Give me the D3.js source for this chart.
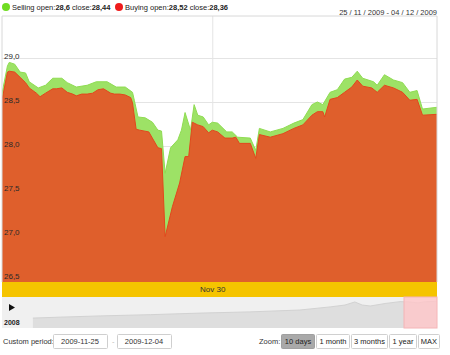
<!DOCTYPE html>
<html>
<head>
<meta charset="utf-8">
<script src="https://cdn.jsdelivr.net/npm/d3@7"></script>
<style>
  body { margin: 0; background: #fff; }
  svg { display: block; font-family: "Liberation Sans", Arial, sans-serif; }
</style>
</head>
<body>
<div id="chart"></div>
<script>
/* stock chart: selling / buying rate, 10 days, with navigator */

// hours after the start of the period (25 Nov 2009, 04:00)
const sellHours = [0,3,4,7,10,13,15,20,24,28,33,36,41,47,52,58,63,68,72,73,75,79,83,86,88,90,93,97,99,101,104,106,108,111,114,116,119,124,127,130,137,140,142,148,155,161,166,171,174,177,181,185,189,193,196,199,205,207,211,216,221,225,229,232,240];
const sellValues = [28.60,28.91,28.95,28.93,28.84,28.83,28.73,28.66,28.69,28.77,28.77,28.72,28.67,28.69,28.73,28.73,28.67,28.67,28.61,28.52,28.33,28.32,28.27,28.18,28.17,27.69,27.98,28.07,28.18,28.38,28.18,28.47,28.35,28.33,28.24,28.27,28.26,28.16,28.16,28.10,28.09,27.95,28.20,28.16,28.20,28.26,28.30,28.47,28.50,28.47,28.61,28.64,28.76,28.78,28.85,28.77,28.73,28.69,28.81,28.75,28.72,28.61,28.63,28.42,28.44];

const buyHours = [0,3,4,7,10,13,15,19,21,24,28,30,33,36,39,41,44,47,50,53,56,60,62,65,68,71,72,74,76,81,86,88,90,94,98,101,103,105,108,111,114,116,119,123,127,129,131,137,140,142,148,155,161,166,171,174,177,178,181,185,189,193,196,199,204,207,211,216,221,225,229,232,240];
const buyValues = [28.52,28.84,28.85,28.84,28.78,28.72,28.66,28.60,28.56,28.60,28.65,28.65,28.66,28.61,28.59,28.57,28.59,28.59,28.60,28.64,28.65,28.60,28.59,28.59,28.58,28.55,28.49,28.19,28.18,28.16,27.98,27.97,26.97,27.31,27.58,27.88,27.88,28.27,28.24,28.22,28.15,28.18,28.16,28.09,28.09,28.10,28.03,28.03,27.86,28.13,28.10,28.14,28.20,28.24,28.35,28.39,28.39,28.33,28.53,28.55,28.61,28.67,28.75,28.68,28.66,28.61,28.69,28.66,28.61,28.52,28.53,28.35,28.36];

// long history shown in the navigator
const navDates = ["2008-02-20","2008-04-04","2008-06-08","2008-08-28","2008-11-16","2009-02-05","2009-04-27","2009-06-15","2009-07-09","2009-07-25","2009-08-06","2009-08-19","2009-09-12","2009-10-06","2009-10-22","2009-11-04","2009-11-16","2009-12-04"];
const navValues = [23.2,23.5,23.9,24.3,24.8,25.2,25.8,26.8,27.4,28.4,27.4,27.1,27.9,28.5,28.4,28.1,28.5,28.6];

const yTicks = [26.5,27.0,27.5,28.0,28.5,29.0];
const zoomButtons = ["10 days","1 month","3 months","1 year","MAX"];
const periodFrom = "2009-11-25", periodTo = "2009-12-04";
const rangeText = "25 / 11 / 2009 - 04 / 12 / 2009";

const width = 450, height = 355;
const plot = { left: 2, right: 437, top: 16, bottom: 282 };

const start = new Date(2009, 10, 25, 4);
const hourToDate = h => new Date(start.getTime() + h * 3600e3);

const svg = d3.select("#chart")
    .append("svg")
    .attr("width", width)
    .attr("height", height);

/* SCALES */
let x = d3.scaleTime()
    .domain([start, hourToDate(240)])
    .range([plot.left, plot.right]);

let y = d3.scaleLinear()
    .domain([26.5, 29.0])
    .range([278, 58]);

const comma = d3.formatLocale({ decimal: ",", thousands: " ", grouping: [3], currency: ["", ""] });
const fmt = comma.format(".1f");

/* LEGEND */
const legend = [
    { color: "#6fdc22", name: "Selling", open: "28,6", close: "28,44", x: 6 },
    { color: "#ee1c1c", name: "Buying", open: "28,52", close: "28,36", x: 119 }
];
legend.forEach(l => {
    svg.append("circle").attr("cx", l.x).attr("cy", 7).attr("r", 4).attr("fill", l.color);
    let t = svg.append("text").attr("x", l.x + 6).attr("y", 10).attr("font-size", 7.5).attr("fill", "#222");
    t.append("tspan").text(l.name + " open:");
    t.append("tspan").attr("font-weight", "bold").text(l.open);
    t.append("tspan").text(" close:");
    t.append("tspan").attr("font-weight", "bold").text(l.close);
});

svg.append("text")
    .attr("x", plot.right).attr("y", 15)
    .attr("text-anchor", "end")
    .attr("font-size", 7.5).attr("fill", "#333")
    .text(rangeText);

/* GRID */
svg.append("g")
    .attr("transform", `translate(${plot.left},0)`)
    .call(d3.axisRight(y).tickValues(yTicks).tickSize(plot.right - plot.left).tickFormat(""))
    .call(g => g.select(".domain").remove())
    .call(g => g.selectAll("line").attr("stroke", "#e4e4e4"));

svg.append("g")
    .attr("transform", `translate(0,${plot.top})`)
    .call(d3.axisBottom(x).ticks(d3.timeMonday).tickSize(plot.bottom - plot.top).tickFormat(""))
    .call(g => g.select(".domain").remove())
    .call(g => g.selectAll("line").attr("stroke", "#e4e4e4"));

/* AREAS */
svg.append("clipPath").attr("id", "clip")
    .append("rect")
    .attr("x", plot.left).attr("y", plot.top)
    .attr("width", plot.right - plot.left).attr("height", plot.bottom - plot.top);

const area = d3.area()
    .x(d => x(hourToDate(d[0])))
    .y0(plot.bottom)
    .y1(d => y(d[1]));
const line = d3.line()
    .x(d => x(hourToDate(d[0])))
    .y(d => y(d[1]));

const sell = d3.zip(sellHours, sellValues);
const buy = d3.zip(buyHours, buyValues);

let areas = svg.append("g").attr("clip-path", "url(#clip)");
areas.append("path").attr("d", area(sell)).attr("fill", "#9de266");
areas.append("path").attr("d", line(sell)).attr("fill", "none").attr("stroke", "#8fdc52").attr("stroke-width", 1);
areas.append("path").attr("d", area(buy)).attr("fill", "#df5f2c");
areas.append("path").attr("d", line(buy)).attr("fill", "none").attr("stroke", "#e2471d").attr("stroke-width", 1);

/* Y LABELS (inside plot) */
svg.append("g")
    .attr("transform", `translate(${plot.left},0)`)
    .call(d3.axisRight(y).tickValues(yTicks).tickSize(0).tickPadding(2).tickFormat(fmt))
    .call(g => g.select(".domain").remove())
    .call(g => g.selectAll("text").attr("dy", "0").attr("font-size", 8).attr("fill", "#2a2a2a")
        .attr("font-family", "Liberation Sans, Arial, sans-serif"));

/* FRAME */
svg.append("path")
    .attr("d", `M${plot.left},${plot.bottom}V${plot.top}H${plot.right}V${plot.bottom}`)
    .attr("fill", "none").attr("stroke", "#d8d8d8");

/* DATE BAND */
svg.append("rect")
    .attr("x", plot.left).attr("y", plot.bottom)
    .attr("width", plot.right - plot.left).attr("height", 15)
    .attr("fill", "#f5c400");

svg.append("g")
    .attr("transform", `translate(0,${plot.bottom})`)
    .call(d3.axisBottom(x).ticks(d3.timeMonday).tickSize(0).tickPadding(4).tickFormat(d3.timeFormat("%b %d")))
    .call(g => g.select(".domain").remove())
    .call(g => g.selectAll("text").attr("font-size", 8).attr("fill", "#333")
        .attr("font-family", "Liberation Sans, Arial, sans-serif"));

/* NAVIGATOR */
const nav = { top: 297, bottom: 328 };
let nx = d3.scaleTime()
    .domain([new Date(2008, 0, 1), new Date(2009, 11, 5)])
    .range([plot.left, plot.right]);
let ny = d3.scaleLinear()
    .domain([20, 30])
    .range([nav.bottom, nav.top]);

svg.append("rect")
    .attr("x", plot.left).attr("y", nav.top)
    .attr("width", plot.right - plot.left).attr("height", nav.bottom - nav.top)
    .attr("fill", "#f0f0f0");

const navData = d3.zip(navDates.map(d3.timeParse("%Y-%m-%d")), navValues);
svg.append("path")
    .attr("d", d3.area().x(d => nx(d[0])).y0(nav.bottom).y1(d => ny(d[1]))(navData))
    .attr("fill", "#dedede");
svg.append("path")
    .attr("d", d3.line().x(d => nx(d[0])).y(d => ny(d[1]))(navData))
    .attr("fill", "none").attr("stroke", "#d2d2d2");

// selected window, drawn with a minimum width
const selW = Math.max(33, nx(hourToDate(240)) - nx(start));
svg.append("rect")
    .attr("x", plot.right - selW).attr("y", nav.top)
    .attr("width", selW).attr("height", nav.bottom - nav.top)
    .attr("fill", "#ffc6c8").attr("fill-opacity", 0.8)
    .attr("stroke", "#f4b4b6");

svg.append("path")
    .attr("d", "M9,304L15,307.5L9,311Z")
    .attr("fill", "#111");

svg.append("text")
    .attr("x", 4).attr("y", 325)
    .attr("font-size", 7).attr("font-weight", "bold").attr("fill", "#222")
    .text(nx.domain()[0].getFullYear());

/* CONTROLS */
const ctrlY = 334, ctrlH = 14;
svg.append("text").attr("x", 3).attr("y", 344).attr("font-size", 7.5).attr("fill", "#333").text("Custom period:");

[[53, periodFrom], [117, periodTo]].forEach(([bx, txt]) => {
    svg.append("rect").attr("x", bx + 0.5).attr("y", ctrlY + 0.5).attr("width", 54).attr("height", ctrlH)
        .attr("rx", 1).attr("fill", "#fff").attr("stroke", "#cfcfcf");
    svg.append("text").attr("x", bx + 27).attr("y", 344).attr("text-anchor", "middle")
        .attr("font-size", 7.5).attr("fill", "#333").text(txt);
});
svg.append("text").attr("x", 112).attr("y", 344).attr("font-size", 7.5).attr("fill", "#bbb").text("-");

svg.append("text").attr("x", 259).attr("y", 344).attr("font-size", 7.5).attr("fill", "#333").text("Zoom:");

const btnW = [33, 33, 36, 27, 21];
let bx = 281;
zoomButtons.forEach((b, i) => {
    svg.append("rect").attr("x", bx + 0.5).attr("y", ctrlY + 0.5).attr("width", btnW[i]).attr("height", ctrlH)
        .attr("rx", 1).attr("fill", i === 0 ? "#a9a9a9" : "#fff").attr("stroke", i === 0 ? "#a0a0a0" : "#d0d0d0");
    svg.append("text").attr("x", bx + btnW[i] / 2 + 0.5).attr("y", 344).attr("text-anchor", "middle")
        .attr("font-size", 7.5).attr("fill", "#222").text(b);
    bx += btnW[i] + 2;
});
</script>
</body>
</html>
